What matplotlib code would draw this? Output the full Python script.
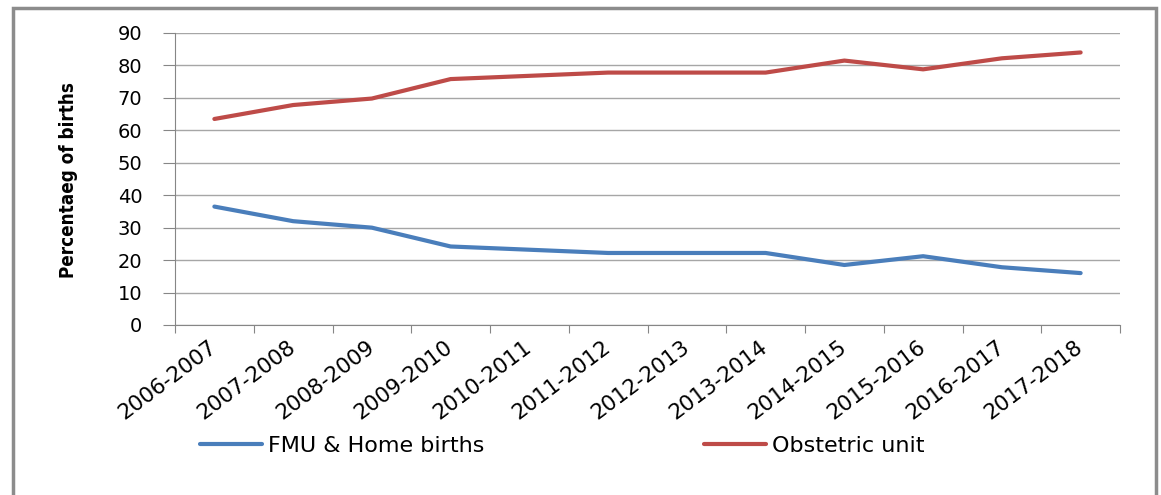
import matplotlib.pyplot as plt
from matplotlib.patches import Rectangle

years = ["2006-2007", "2007-2008", "2008-2009", "2009-2010", "2010-2011", "2011-2012",
         "2012-2013", "2013-2014", "2014-2015", "2015-2016", "2016-2017", "2017-2018"]
fmu_home = [36.5, 32.0, 30.0, 24.2, 23.2, 22.2, 22.2, 22.2, 18.5, 21.2, 17.8, 16.0]
obstetric = [63.5, 67.8, 69.8, 75.8, 76.8, 77.8, 77.8, 77.8, 81.5, 78.8, 82.2, 84.0]

fig = plt.figure(figsize=(11.61, 4.95), dpi=100)
ax = fig.add_axes([175 / 1161, 1 - 325 / 495, 945 / 1161, 292 / 495])

x = range(len(years))
ax.plot(x, fmu_home, color="#4a7ebb", lw=3, label="FMU & Home births", solid_capstyle="round")
ax.plot(x, obstetric, color="#be4b48", lw=3, label="Obstetric unit", solid_capstyle="round")

ax.set_xlim(-0.5, len(years) - 0.5)
ax.set_ylim(0, 90)
ax.set_yticks(range(0, 91, 10))
# category boundaries carry the tick marks, labels sit at the category centres
ax.set_xticks([i - 0.5 for i in range(len(years) + 1)])
ax.set_xticklabels([])
ax.set_xticks(list(x), minor=True)
ax.set_xticklabels(years, minor=True, rotation=37, ha="right", va="center",
                   rotation_mode="anchor", fontsize=15.5)
ax.tick_params(axis="x", which="minor", length=0, pad=14)
ax.tick_params(axis="x", which="major", length=6, color="#868686", direction="out")
ax.tick_params(axis="y", length=8.6, color="#868686", labelsize=14, pad=15)

ax.grid(axis="y", color="#a6a6a6", lw=1)
ax.set_axisbelow(True)
for s in ["top", "right"]:
    ax.spines[s].set_visible(False)
ax.spines["left"].set_color("#868686")
ax.spines["bottom"].set_color("#868686")

ax.set_ylabel("Percentaeg of births", fontsize=13.5, fontweight="heavy", family="DejaVu Sans",
              fontstretch="condensed")
ax.yaxis.set_label_coords(78 / 1161, 1 - 180 / 495, transform=fig.transFigure)

fig.legend(loc="center left", bbox_to_anchor=(200 / 1161, 1 - 446 / 495), ncol=2, frameon=False,
           fontsize=16, handlelength=2.8, columnspacing=9.9, handletextpad=0.25,
           borderaxespad=0, borderpad=0)

fig.patches.append(Rectangle((13 / 1161, -0.1), 1143 / 1161, 1.1 - 8 / 495, transform=fig.transFigure,
                             fill=False, edgecolor="#8c8c8c", lw=2.5))

fig.savefig("out.png", dpi=100)
